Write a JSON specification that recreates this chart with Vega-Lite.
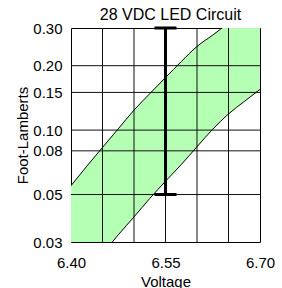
{
  "$schema": "https://vega.github.io/schema/vega-lite/v6.json",
  "width": 189,
  "height": 214,
  "autosize": "none",
  "padding": {"left": 71, "top": 28, "right": 22, "bottom": 46},
  "background": "white",
  "title": {"text": "28 VDC LED Circuit", "font": "Liberation Sans", "fontSize": 16, "fontWeight": "normal", "color": "#000", "offset": -15, "dx": 5, "baseline": "alphabetic"},
  "config": {
    "view": {"stroke": "#000", "strokeWidth": 1},
    "axis": {
      "labelFont": "Liberation Sans", "labelFontSize": 15, "labelColor": "#000",
      "titleFont": "Liberation Sans", "titleFontSize": 15, "titleFontWeight": "normal", "titleColor": "#000",
      "ticks": false, "domain": false, "grid": false, "labelOverlap": false
    }
  },
  "datasets": {
    "band": [
      {"v": 6.40, "lo": 0.0178, "hi": 0.055},
      {"v": 6.425, "lo": 0.0217, "hi": 0.0678},
      {"v": 6.45, "lo": 0.0264, "hi": 0.083},
      {"v": 6.475, "lo": 0.0324, "hi": 0.1014},
      {"v": 6.50, "lo": 0.0393, "hi": 0.124},
      {"v": 6.525, "lo": 0.0479, "hi": 0.148},
      {"v": 6.55, "lo": 0.0577, "hi": 0.176},
      {"v": 6.575, "lo": 0.069, "hi": 0.209},
      {"v": 6.60, "lo": 0.0836, "hi": 0.246},
      {"v": 6.625, "lo": 0.101, "hi": 0.278},
      {"v": 6.65, "lo": 0.119, "hi": 0.316},
      {"v": 6.675, "lo": 0.136, "hi": 0.355},
      {"v": 6.70, "lo": 0.155, "hi": 0.40}
    ],
    "gx": [{"g": 6.45}, {"g": 6.50}, {"g": 6.55}, {"g": 6.60}, {"g": 6.65}],
    "gy": [{"g": 0.05}, {"g": 0.08}, {"g": 0.10}, {"g": 0.15}, {"g": 0.20}],
    "err": [{"v": 6.55, "lo": 0.05, "hi": 0.30}]
  },
  "layer": [
    {
      "data": {"name": "band"},
      "mark": {"type": "area", "color": "#b4ffb4", "opacity": 1, "clip": true, "interpolate": "monotone"},
      "encoding": {
        "x": {"field": "v", "type": "quantitative", "scale": {"domain": [6.40, 6.70], "nice": false, "zero": false},
          "axis": {"title": "Voltage", "values": [6.40, 6.55, 6.70], "format": ".2f",
            "labelPadding": 13, "titlePadding": 4, "labelFlush": false}},
        "y": {"field": "lo", "type": "quantitative", "scale": {"type": "log", "domain": [0.03, 0.30], "nice": false},
          "axis": {"title": "Foot-Lamberts", "values": [0.03, 0.05, 0.08, 0.10, 0.15, 0.20, 0.30], "format": ".2f",
            "labelPadding": 9, "titlePadding": 2, "labelFlush": false}},
        "y2": {"field": "hi"}
      }
    },
    {
      "data": {"name": "gx"},
      "mark": {"type": "rule", "color": "#111", "strokeWidth": 1},
      "encoding": {"x": {"field": "g", "type": "quantitative"}}
    },
    {
      "data": {"name": "gy"},
      "mark": {"type": "rule", "color": "#111", "strokeWidth": 1},
      "encoding": {"y": {"field": "g", "type": "quantitative"}}
    },
    {
      "data": {"name": "band"},
      "mark": {"type": "line", "color": "#000", "strokeWidth": 1, "clip": true, "interpolate": "monotone"},
      "encoding": {
        "x": {"field": "v", "type": "quantitative"},
        "y": {"field": "lo", "type": "quantitative"}
      }
    },
    {
      "data": {"name": "band"},
      "mark": {"type": "line", "color": "#000", "strokeWidth": 1, "clip": true, "interpolate": "monotone"},
      "encoding": {
        "x": {"field": "v", "type": "quantitative"},
        "y": {"field": "hi", "type": "quantitative"}
      }
    },
    {
      "data": {"name": "err"},
      "mark": {"type": "rule", "color": "#000", "strokeWidth": 3},
      "encoding": {
        "x": {"field": "v", "type": "quantitative"},
        "y": {"field": "lo", "type": "quantitative"},
        "y2": {"field": "hi"}
      }
    },
    {
      "data": {"name": "err"},
      "mark": {"type": "tick", "orient": "horizontal", "color": "#000", "size": 22, "thickness": 3, "opacity": 1},
      "encoding": {
        "x": {"field": "v", "type": "quantitative"},
        "y": {"field": "lo", "type": "quantitative"}
      }
    },
    {
      "data": {"name": "err"},
      "mark": {"type": "tick", "orient": "horizontal", "color": "#000", "size": 22, "thickness": 3, "opacity": 1},
      "encoding": {
        "x": {"field": "v", "type": "quantitative"},
        "y": {"field": "hi", "type": "quantitative"}
      }
    }
  ]
}
